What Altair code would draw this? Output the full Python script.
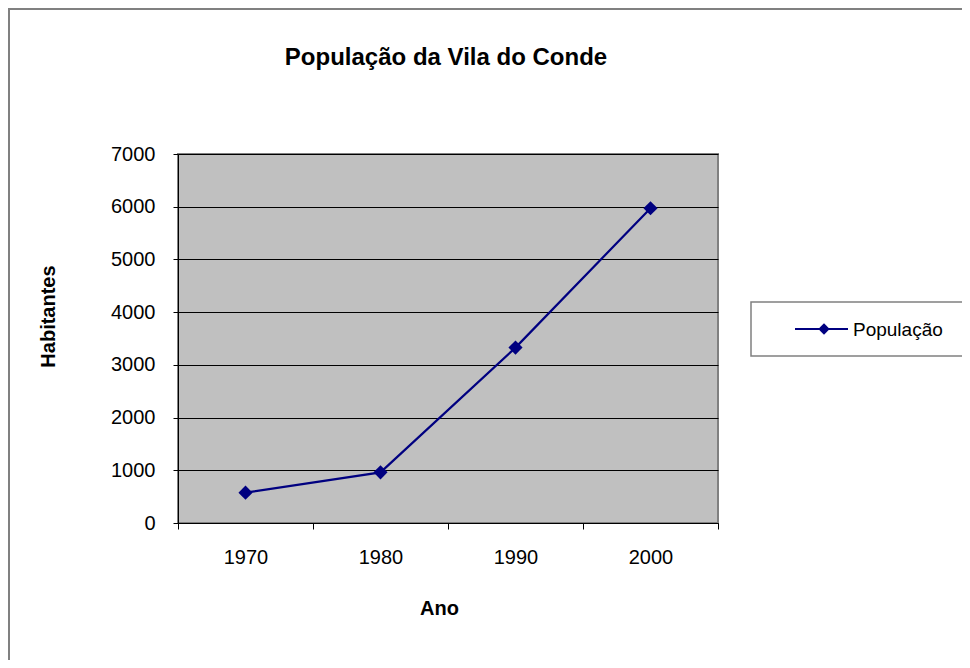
import altair as alt
import pandas as pd

# Data
anos = ["1970", "1980", "1990", "2000"]
habitantes = [576, 961, 3327, 5971]
serie = "População"
titulo = "População da Vila do Conde"

df = pd.DataFrame({"Ano": anos, "Habitantes": habitantes, "Serie": [serie] * len(anos)})

FONT = "Liberation Sans"
W, H = 540, 369
NAVY = "#000080"

base = alt.Chart(df)

line = base.mark_line(color=NAVY, strokeWidth=2.2).encode(
    x=alt.X(
        "Ano:O",
        sort=anos,
        scale=alt.Scale(type="band", paddingInner=0, paddingOuter=0),
        axis=alt.Axis(
            title="Ano",
            labelAngle=0,
            labelFontSize=20,
            labelFont=FONT,
            labelColor="#000000",
            labelPadding=18,
            tickBand="extent",
            tickSize=6,
            tickColor="#000000",
            domainColor="#000000",
            grid=False,
            titleFont=FONT,
            titleFontSize=20,
            titleFontWeight="bold",
            titleColor="#000000",
            titleX=261,
            titleY=85,
            titleAlign="center",
            titleBaseline="middle",
        ),
    ),
    y=alt.Y(
        "Habitantes:Q",
        scale=alt.Scale(domain=[0, 7000], nice=False),
        axis=alt.Axis(
            title="Habitantes",
            values=[0, 1000, 2000, 3000, 4000, 5000, 6000, 7000],
            format="d",
            labelFontSize=20,
            labelFont=FONT,
            labelColor="#000000",
            labelPadding=18,
            tickSize=5,
            tickColor="#000000",
            domainColor="#000000",
            grid=True,
            gridColor="#000000",
            gridWidth=1,
            titleFont=FONT,
            titleFontSize=20,
            titleFontWeight="bold",
            titleColor="#000000",
            titleX=-130,
            titleY=162,
            titleAngle=-90,
            titleAlign="center",
            titleBaseline="middle",
        ),
    ),
)

points = base.mark_point(shape="diamond", filled=True, color=NAVY, size=200, opacity=1).encode(
    x=alt.X("Ano:O", sort=anos),
    y=alt.Y("Habitantes:Q"),
)

one = alt.Data(values=[{"k": 1}])

outer = alt.Chart(one).mark_rect(fill="transparent", stroke="#808080", strokeWidth=2).encode(
    x=alt.value(-169), x2=alt.value(W + 300), y=alt.value(-145), y2=alt.value(H + 200)
)

title_txt = alt.Chart(one).mark_text(
    text=titulo, font=FONT, fontSize=24, fontWeight="bold", align="center",
    baseline="middle", color="#000000"
).encode(x=alt.value(268), y=alt.value(-96))

leg_box = alt.Chart(one).mark_rect(fill="#ffffff", stroke="#808080", strokeWidth=1.5).encode(
    x=alt.value(573), x2=alt.value(820), y=alt.value(148), y2=alt.value(202)
)
leg_line = alt.Chart(one).mark_rule(color=NAVY, strokeWidth=2.2).encode(
    x=alt.value(617), x2=alt.value(670), y=alt.value(175)
)
leg_pt = alt.Chart(one).mark_point(shape="diamond", filled=True, color=NAVY, size=130, opacity=1).encode(
    x=alt.value(646), y=alt.value(175)
)
leg_txt = alt.Chart(one).mark_text(
    text=serie, font=FONT, fontSize=19, align="left", baseline="middle", color="#000000"
).encode(x=alt.value(675), y=alt.value(176))

chart = (
    alt.layer(line, points, outer, title_txt, leg_box, leg_line, leg_pt, leg_txt)
    .properties(
        width=W,
        height=H,
        autosize=alt.AutoSizeParams(type="none"),
        padding={"left": 170, "top": 146, "right": 244, "bottom": 137},
        background="#ffffff",
    )
    .configure_view(fill="#C0C0C0", stroke="#808080", strokeWidth=2)
)

chart.save("out.html", embed_options={"renderer": "svg", "actions": False})
